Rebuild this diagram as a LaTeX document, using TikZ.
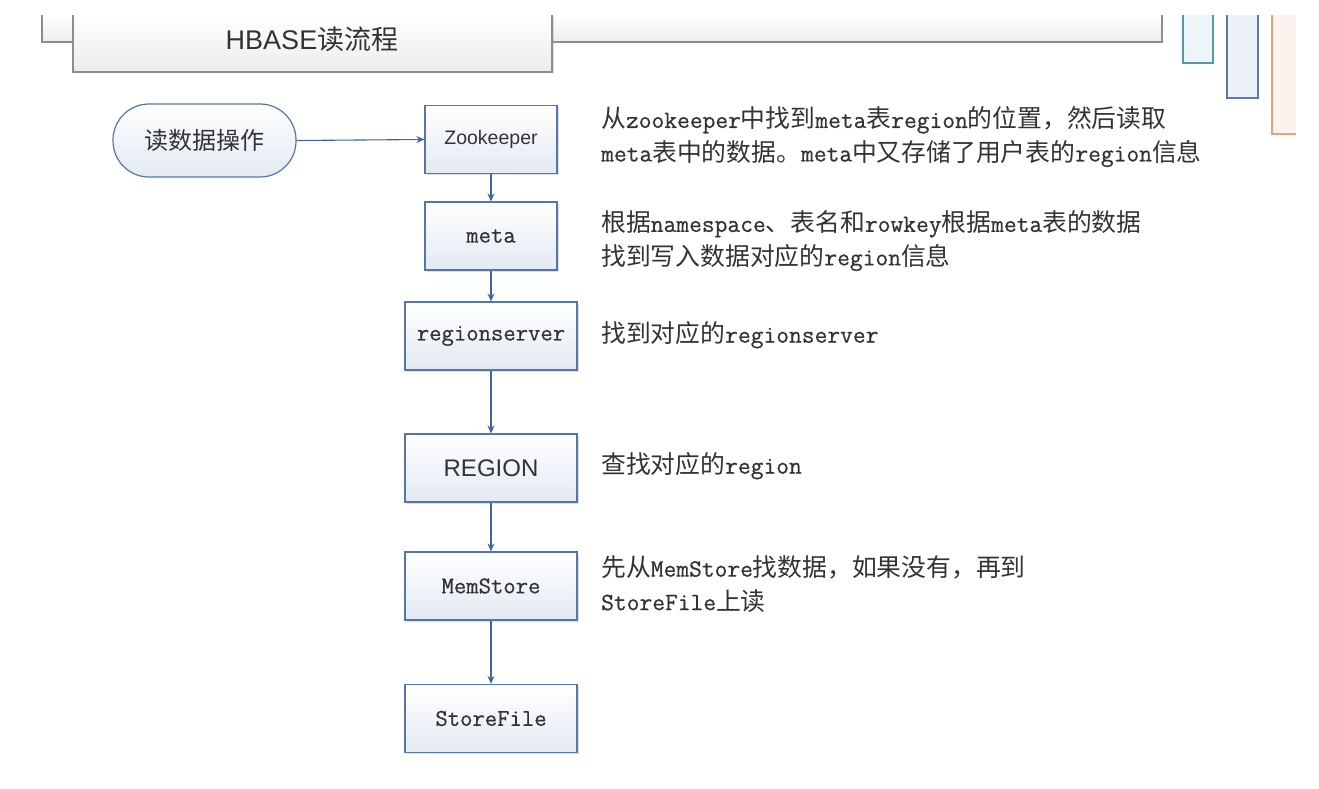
\documentclass[tikz,border=0pt]{standalone}
\usepackage{fontspec}
\setmainfont{Liberation Sans}
\newfontfamily\cjk{Noto Sans CJK SC}
\newfontfamily\monob{Latin Modern Mono}[FakeBold=0.6]
\usetikzlibrary{arrows.meta,shadows}
\definecolor{boxline}{HTML}{5677A6}
\definecolor{boxbot}{HTML}{E3E9F3}
\definecolor{arrowc}{HTML}{41679A}
\definecolor{txt}{HTML}{333333}
\definecolor{bangray}{HTML}{8E8E8E}
\definecolor{banbot}{HTML}{ECECEC}
\definecolor{tealline}{HTML}{4E9AA6}
\definecolor{tealfill}{HTML}{EEF5F8}
\definecolor{blueline}{HTML}{5B7AA6}
\definecolor{bluefill}{HTML}{ECF0F8}
\definecolor{orline}{HTML}{E2A47A}
\definecolor{orfill}{HTML}{FDF3EE}
\newcommand\lat[1]{{\monob #1}}
\tikzset{
  flowbox/.style={draw=boxline, line width=1.2pt, top color=white, bottom color=boxbot,
    minimum width=172pt, minimum height=68pt, inner sep=0pt, text=txt,
    drop shadow={shadow xshift=1.5pt, shadow yshift=-1.5pt, opacity=0.25}},
  smallbox/.style={flowbox, minimum width=132pt},
  boxmono/.style={font=\monob\fontsize{24}{28}\selectfont},
  desc/.style={font=\cjk\fontsize{24.8}{33.5}\selectfont, text=txt, align=left, anchor=west, inner sep=0pt},
  flow/.style={draw=arrowc, line width=1.1pt, -{Stealth[length=8pt,width=7pt]}},
}
\begin{document}
\begin{tikzpicture}[x=1pt,y=-1pt]
\useasboundingbox (0,0) rectangle (1319,789);
% top banner
\path[fill=white] (0,0) rectangle (1319,789);
\draw[draw=bangray, line width=1.2pt, top color=white, bottom color=banbot]
  (42,15) -- (42,42) -- (1162,42) -- (1162,15);
\draw[draw=bangray, line width=1.2pt, top color=white, bottom color=banbot,
  drop shadow={shadow xshift=1.5pt, shadow yshift=-1.5pt, opacity=0.25}]
  (73,15) -- (73,72) -- (552,72) -- (552,15);
\node[text=txt, font=\fontsize{27}{30}\selectfont, inner sep=0pt] (title) at (312,39) {HBASE{\cjk 读流程}};
% right decorative bars
\draw[draw=tealline, line width=1.2pt, fill=tealfill] (1183,15) -- (1183,63) -- (1213,63) -- (1213,15);
\draw[draw=blueline, line width=1.2pt, fill=bluefill] (1227,15) -- (1227,98) -- (1258,98) -- (1258,15);
\fill[orfill] (1272,15) rectangle (1296,134);
\draw[draw=orline, line width=1.2pt] (1272,15) -- (1272,134) -- (1296,134);
% start
\node[draw=boxline, line width=1.2pt, top color=white, bottom color=boxbot, rounded corners=36pt,
  minimum width=183pt, minimum height=73pt, inner sep=0pt, text=txt,
  font=\cjk\fontsize{24}{28}\selectfont] (start) at (204.5,140.5) {读数据操作};
% flow boxes
\node[smallbox, font=\fontsize{19.5}{22}\selectfont] (zk) at (491,139.5) {Zookeeper};
\node[smallbox, boxmono] (meta) at (491,236) {meta};
\node[flowbox, boxmono] (rs) at (491,336) {regionserver};
\node[flowbox, font=\fontsize{24}{28}\selectfont] (region) at (491,468) {REGION};
\node[flowbox, boxmono] (mem) at (491,586) {MemStore};
\node[flowbox, boxmono] (sf) at (491,718.5) {StoreFile};
% connectors
\draw[flow] (start.east) -- (zk.west);
\draw[flow] (zk) -- (meta);
\draw[flow] (meta) -- (rs);
\draw[flow] (rs) -- (region);
\draw[flow] (region) -- (mem);
\draw[flow] (mem) -- (sf);
% descriptions
\node[desc] (d1) at (601,137) {从\lat{zookeeper}中找到\lat{meta}表\lat{region}的位置，然后读取\\\lat{meta}表中的数据。\lat{meta}中又存储了用户表的\lat{region}信息};
\node[desc] (d2) at (601,241) {根据\lat{namespace}、表名和\lat{rowkey}根据\lat{meta}表的数据\\找到写入数据对应的\lat{region}信息};
\node[desc] (d3) at (601,335) {找到对应的\lat{regionserver}};
\node[desc] (d4) at (601,466) {查找对应的\lat{region}};
\node[desc] (d5) at (601,584) {先从\lat{MemStore}找数据，如果没有，再到\\\lat{StoreFile}上读};
\end{tikzpicture}
\end{document}
